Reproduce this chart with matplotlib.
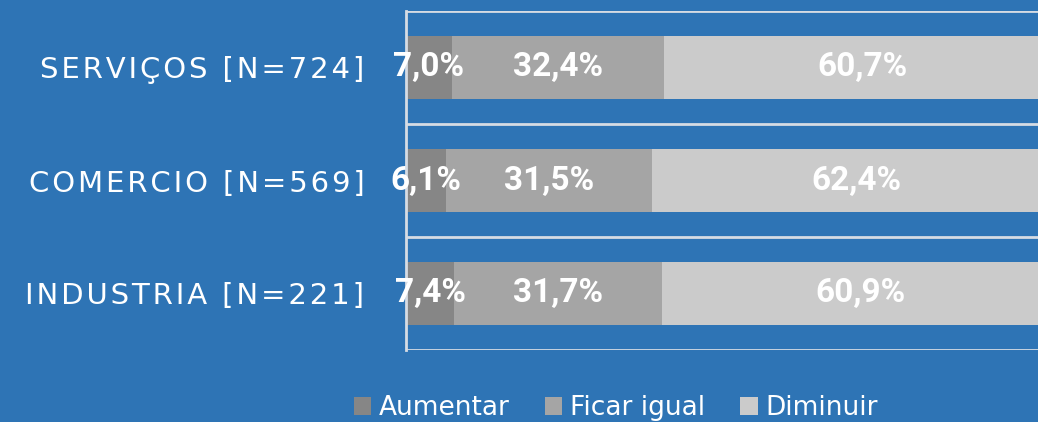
import matplotlib.pyplot as plt

categories = ["SERVIÇOS [N=724]", "COMERCIO [N=569]", "INDUSTRIA [N=221]"]
series = ["Aumentar", "Ficar igual", "Diminuir"]
aumentar = [7.0, 6.1, 7.4]
ficar_igual = [32.4, 31.5, 31.7]
diminuir = [60.7, 62.4, 60.9]

colors = ["#868686", "#A5A5A5", "#CBCBCB"]
bg = "#2E74B5"
grid_col = "#D6DCE4"


def spaced(s):
    # mimic the wide letter spacing of the original labels
    return "\u200a".join(s)


fig = plt.figure(figsize=(10.38, 4.22), dpi=100, facecolor=bg)
# axes right edge lies past the figure edge, as in the reference (cropped)
ax = fig.add_axes([406 / 1038, 72 / 422, 654 / 1038, 339 / 422])
ax.set_facecolor(bg)

ypos = [2, 1, 0]
left = [0, 0, 0]
for name, vals, col in zip(series, [aumentar, ficar_igual, diminuir], colors):
    bars = ax.barh(ypos, vals, left=left, height=0.56, color=col, label=name)
    for b, v in zip(bars, vals):
        ax.text(b.get_x() + b.get_width() / 2, b.get_y() + b.get_height() / 2,
                f"{v:.1f}%".replace(".", ","), ha="center", va="center",
                color="white", fontsize=24, fontweight="bold", family="Roboto")
    left = [l + v for l, v in zip(left, vals)]

ax.set_xlim(0, 100)
ax.set_ylim(-0.5, 2.5)
for y in [-0.5, 0.5, 1.5, 2.5]:
    ax.axhline(y, color=grid_col, lw=2, zorder=0)

for s in ["top", "right", "bottom"]:
    ax.spines[s].set_visible(False)
ax.spines["left"].set_color(grid_col)
ax.spines["left"].set_linewidth(2)

ax.set_xticks([])
ax.set_yticks(ypos)
ax.set_yticklabels([spaced(c) for c in categories], color="white",
                   fontsize=21, family="DejaVu Sans")
ax.tick_params(axis="y", length=0, pad=30)

fig.legend(loc="center", bbox_to_anchor=(616 / 1038, 14 / 422), ncol=3,
           frameon=False, fontsize=19, labelcolor="white",
           handlelength=0.65, handleheight=0.65, handletextpad=0.3,
           columnspacing=1.33, borderaxespad=0)

fig.savefig("out.png", dpi=100, facecolor=bg)
